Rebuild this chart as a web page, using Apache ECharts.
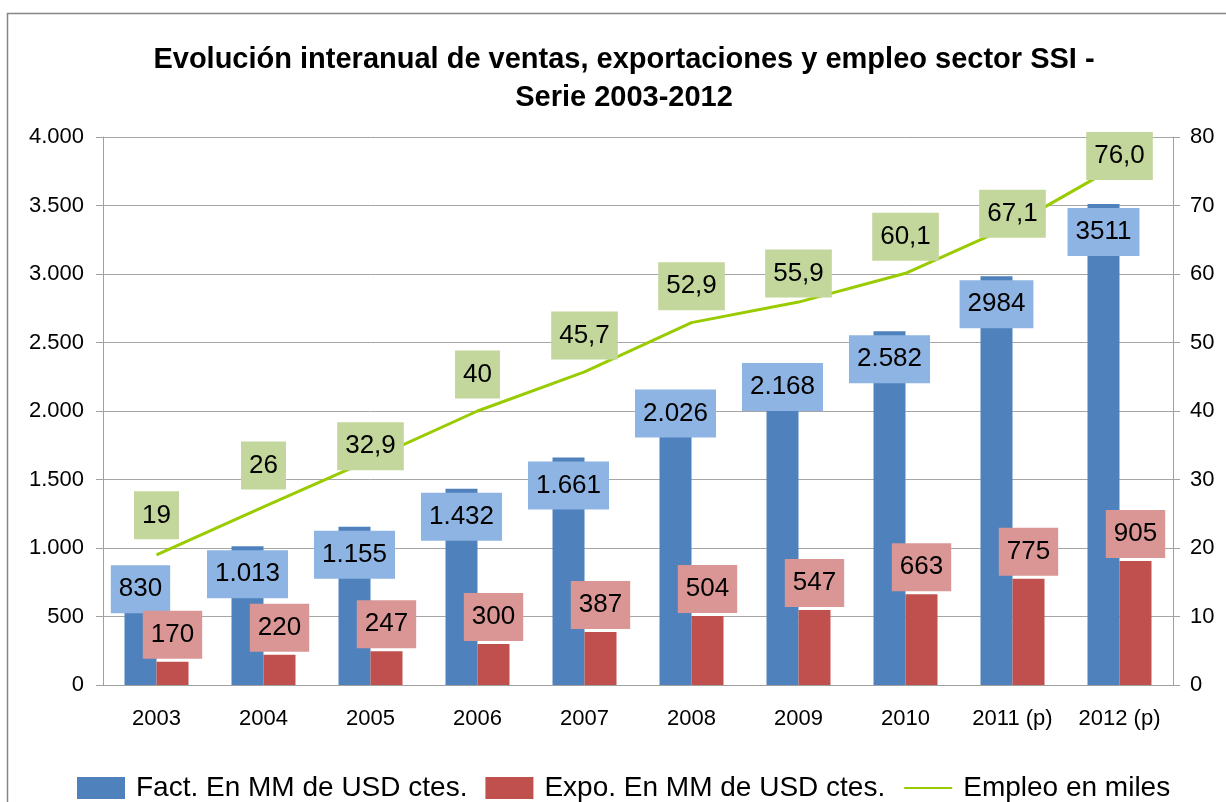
<!DOCTYPE html>
<html>
<head>
<meta charset="utf-8">
<script src="https://cdn.jsdelivr.net/npm/echarts@6/dist/echarts.min.js"></script>
<style>
  html, body { margin: 0; padding: 0; background: #fff; }
  #chart { width: 1226px; height: 802px; }
</style>
</head>
<body>
<div id="chart"></div>
<script>
// data
const years = ['2003', '2004', '2005', '2006', '2007', '2008', '2009', '2010', '2011 (p)', '2012 (p)'];
const facturacion = [830, 1013, 1155, 1432, 1661, 2026, 2168, 2582, 2984, 3511];
const exportaciones = [170, 220, 247, 300, 387, 504, 547, 663, 775, 905];
const empleo = [19, 26, 32.9, 40, 45.7, 52.9, 55.9, 60.1, 67.1, 76.0];
const leftTicks = [0, 500, 1000, 1500, 2000, 2500, 3000, 3500, 4000];
const rightTicks = [0, 10, 20, 30, 40, 50, 60, 70, 80];

// label nudges (px), labels were moved by hand in the original
const factLabelShift = [-10, 0, 0, 0, 0, -22, -29, 0, 0, 0];
const empLabelShift = [-3, -5, 23, 0, 0, 0, 8, 0, 25, 28];

const FONT = '"Liberation Sans", Arial, sans-serif';
const projected = i => years[i].indexOf('(p)') >= 0;

function thousands(v) {
    return String(v).replace(/\B(?=(\d{3})+(?!\d))/g, '.');
}

const chart = echarts.init(document.getElementById('chart'), null, { renderer: 'canvas' });

chart.setOption({
    animation: false,
    textStyle: { fontFamily: FONT },
    graphic: [{
        type: 'rect',
        shape: { x: 7.5, y: 13.5, width: 1240, height: 820 },
        style: { fill: 'none', stroke: '#868686', lineWidth: 1.5 },
        silent: true,
        z: -1
    }],
    title: {
        text: 'Evolución interanual de ventas, exportaciones y empleo sector SSI -\nSerie 2003-2012',
        left: 619,
        textAlign: 'center',
        top: 36,
        textStyle: {
            fontFamily: FONT,
            fontSize: 29,
            fontWeight: 'bold',
            color: '#000',
            lineHeight: 38
        }
    },
    legend: {
        left: 72,
        top: 769,
        itemWidth: 48,
        itemHeight: 22,
        itemGap: 18,
        textStyle: { fontFamily: FONT, fontSize: 28, color: '#000', padding: [0, 0, 0, 6] },
        data: [
            { name: 'Fact. En MM de USD ctes.', icon: 'rect' },
            { name: 'Expo. En MM de USD ctes.', icon: 'rect' },
            { name: 'Empleo en miles', itemStyle: { opacity: 0 } }
        ]
    },
    grid: { left: 103, right: 53, top: 137, bottom: 117 },
    xAxis: {
        type: 'category',
        data: years,
        axisLine: { lineStyle: { color: '#a0a0a0', width: 1 } },
        axisTick: { show: false },
        axisLabel: { fontSize: 22, color: '#000', margin: 23, fontFamily: FONT }
    },
    yAxis: [{
        type: 'value',
        min: leftTicks[0],
        max: leftTicks[leftTicks.length - 1],
        interval: 500,
        axisLine: { show: true, lineStyle: { color: '#a0a0a0' } },
        axisTick: { show: true, length: 7, lineStyle: { color: '#a0a0a0' } },
        axisLabel: {
            fontSize: 22, color: '#000', margin: 19, fontFamily: FONT,
            formatter: v => thousands(v)
        },
        splitLine: { lineStyle: { color: '#a6a6a6', width: 1 } }
    }, {
        type: 'value',
        min: rightTicks[0],
        max: rightTicks[rightTicks.length - 1],
        interval: 10,
        axisLine: { show: true, lineStyle: { color: '#a0a0a0' } },
        axisTick: { show: true, length: 7, lineStyle: { color: '#a0a0a0' } },
        axisLabel: { fontSize: 22, color: '#000', margin: 17, fontFamily: FONT },
        splitLine: { show: false }
    }],
    series: [{
        name: 'Fact. En MM de USD ctes.',
        type: 'bar',
        barWidth: 32,
        barGap: '0%',
        itemStyle: { color: '#4F81BD' },
        data: facturacion.map((v, i) => ({
            value: v,
            label: { offset: [0, factLabelShift[i]] }
        })),
        label: {
            show: true,
            position: 'insideTop',
            distance: 4,
            fontSize: 26,
            color: '#000',
            fontFamily: FONT,
            backgroundColor: '#8EB4E3',
            padding: [11, 8, 11, 8],
            formatter: p => projected(p.dataIndex) ? String(p.value) : thousands(p.value)
        }
    }, {
        name: 'Expo. En MM de USD ctes.',
        type: 'bar',
        barWidth: 32,
        barGap: '0%',
        itemStyle: { color: '#C0504D' },
        data: exportaciones,
        label: {
            show: true,
            position: 'top',
            distance: 3,
            fontSize: 26,
            color: '#000',
            fontFamily: FONT,
            backgroundColor: '#D99694',
            padding: [11, 8, 11, 8]
        }
    }, {
        name: 'Empleo en miles',
        type: 'line',
        yAxisIndex: 1,
        symbol: 'circle',
        symbolSize: 1,
        lineStyle: { color: '#99CC00', width: 3 },
        itemStyle: { color: '#99CC00', opacity: 0 },
        data: empleo.map((v, i) => ({
            value: v,
            label: { offset: [0, empLabelShift[i]] }
        })),
        label: {
            show: true,
            position: 'top',
            distance: 12,
            fontSize: 26,
            color: '#000',
            opacity: 1,
            fontFamily: FONT,
            backgroundColor: '#C3D69B',
            padding: [11, 8, 11, 8],
            formatter: p => projected(p.dataIndex)
                ? p.value.toFixed(1).replace('.', ',')
                : String(p.value).replace('.', ',')
        },
        z: 5
    }]
});
</script>
</body>
</html>
